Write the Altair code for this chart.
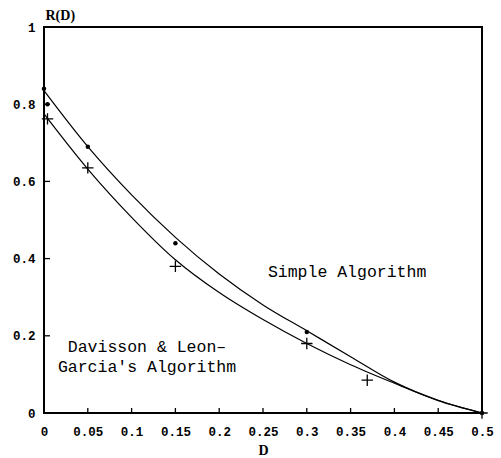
import altair as alt
import pandas as pd

# Curves
curve_D = [0.0, 0.05, 0.1, 0.15, 0.2, 0.25, 0.3, 0.35, 0.4, 0.45, 0.5]
simple_R = [0.835, 0.69, 0.565, 0.455, 0.36, 0.28, 0.213, 0.146, 0.08, 0.033, 0.0]
dlg_R = [0.775, 0.632, 0.507, 0.397, 0.312, 0.242, 0.18, 0.125, 0.077, 0.032, 0.0]

# Markers
dot_D = [0.0, 0.004, 0.05, 0.15, 0.3, 0.5]
dot_R = [0.84, 0.80, 0.69, 0.44, 0.21, 0.0]
plus_D = [0.004, 0.05, 0.15, 0.3, 0.369, 0.5]
plus_R = [0.762, 0.635, 0.38, 0.18, 0.085, 0.0]

x_ticks = [0, 0.05, 0.1, 0.15, 0.2, 0.25, 0.3, 0.35, 0.4, 0.45, 0.5]
y_ticks = [0, 0.2, 0.4, 0.6, 0.8, 1]

W, H = 438, 386
MONO = "Liberation Mono"
SERIF = "Liberation Serif"

curves = pd.concat([
    pd.DataFrame({"D": curve_D, "R": simple_R, "s": "simple"}),
    pd.DataFrame({"D": curve_D, "R": dlg_R, "s": "dlg"}),
])
dots = pd.DataFrame({"D": dot_D, "R": dot_R})
pluses = pd.DataFrame({"D": plus_D, "R": plus_R})
xt = pd.DataFrame({"v": x_ticks})
yt = pd.DataFrame({"v": y_ticks})

xscale = alt.Scale(domain=[0, 0.5], nice=False, zero=False)
yscale = alt.Scale(domain=[0, 1], nice=False, zero=False)

xaxis = alt.Axis(values=x_ticks, ticks=False, labelPadding=12, labelFont=MONO,
                 labelFontSize=12.5, labelFontWeight="bold", labelColor="black",
                 labelFlush=False, labelExpr="format(datum.value, '')",
                 domain=False, grid=False, title="D", titleFont=SERIF,
                 titleFontSize=14, titleFontWeight="bold", titleColor="black",
                 titleY=41, titleBaseline="alphabetic")
yaxis = alt.Axis(values=y_ticks, ticks=False, labelPadding=9, labelFont=MONO,
                 labelFontSize=12.5, labelFontWeight="bold", labelColor="black",
                 labelFlush=False, labelExpr="format(datum.value, '')",
                 domain=False, grid=False, title="R(D)", titleFont=SERIF,
                 titleFontSize=14, titleFontWeight="bold", titleColor="black",
                 titleAngle=0, titleAlign="left", titleX=1, titleY=-8,
                 titleBaseline="alphabetic")

lines = alt.Chart(curves).mark_line(color="black", strokeWidth=1.2, interpolate="monotone").encode(
    x=alt.X("D:Q", scale=xscale, axis=xaxis),
    y=alt.Y("R:Q", scale=yscale, axis=yaxis),
    detail="s:N",
)

dot_layer = alt.Chart(dots).mark_point(shape="circle", filled=True, color="black", size=20, opacity=1).encode(
    x=alt.X("D:Q", scale=xscale), y=alt.Y("R:Q", scale=yscale)
)

plus_layer = alt.Chart(pluses).mark_point(shape="M-1,0L1,0M0,-1L0,1", filled=False, color="black",
                                          size=130, strokeWidth=1.3, opacity=1).encode(
    x=alt.X("D:Q", scale=xscale), y=alt.Y("R:Q", scale=yscale)
)

xtick_layer = alt.Chart(xt).mark_rule(color="black", strokeWidth=1.3).encode(
    x=alt.X("v:Q", scale=xscale), y=alt.value(H), y2=alt.value(H - 5)
)
ytick_layer = alt.Chart(yt).mark_rule(color="black", strokeWidth=1.3).encode(
    y=alt.Y("v:Q", scale=yscale), x=alt.value(0), x2=alt.value(6)
)

txt_simple = alt.Chart().mark_text(font=MONO, fontSize=16.5, color="black", align="center",
                                   baseline="alphabetic").encode(
    x=alt.datum(0.346), y=alt.datum(0.352), text=alt.value("Simple Algorithm")
)
txt_dlg1 = alt.Chart().mark_text(font=MONO, fontSize=16.5, color="black", align="center",
                                 baseline="alphabetic").encode(
    x=alt.datum(0.1176), y=alt.datum(0.158), text=alt.value("Davisson & Leon\u2013")
)
txt_dlg2 = alt.Chart().mark_text(font=MONO, fontSize=16.5, color="black", align="center",
                                 baseline="alphabetic").encode(
    x=alt.datum(0.1176), y=alt.datum(0.106), text=alt.value("Garcia's Algorithm")
)

chart = alt.layer(lines, dot_layer, plus_layer, xtick_layer, ytick_layer,
                  txt_simple, txt_dlg1, txt_dlg2).properties(
    width=W, height=H,
    autosize=alt.AutoSizeParams(type="none"),
    padding={"left": 44, "top": 27, "right": 19, "bottom": 45},
    background="white",
).configure_view(stroke="black", strokeWidth=2)

chart.save("out.html", embed_options={"renderer": "svg", "actions": False})
